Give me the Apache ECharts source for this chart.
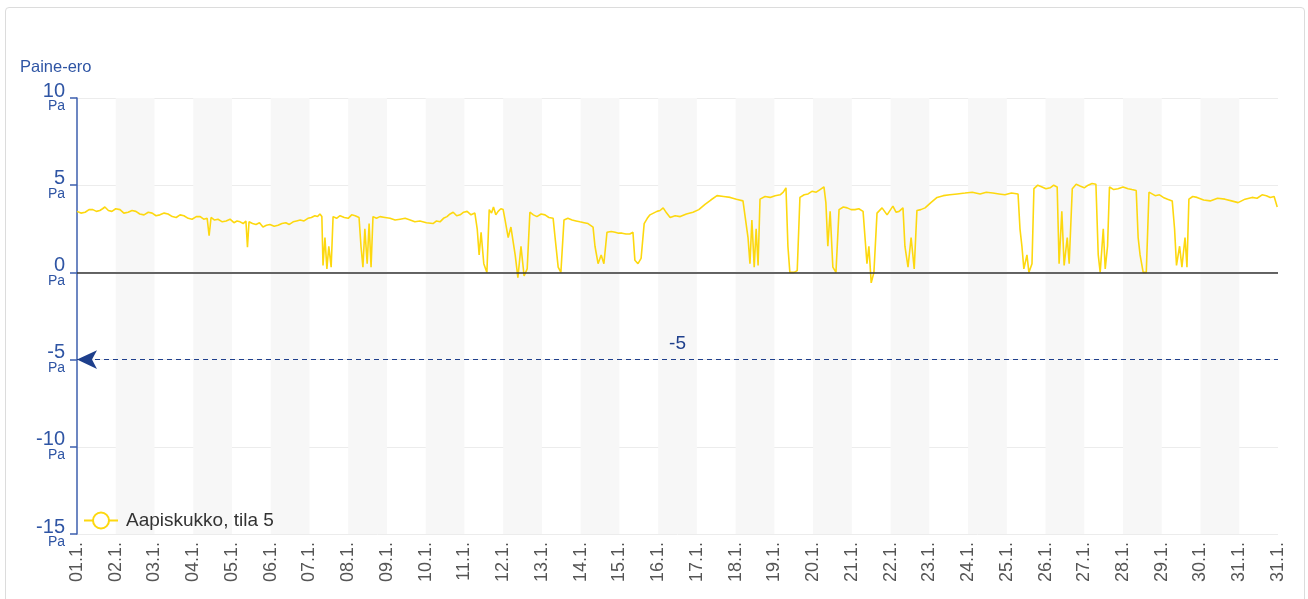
<!DOCTYPE html>
<html>
<head>
<meta charset="utf-8">
<script src="https://cdn.jsdelivr.net/npm/echarts@6/dist/echarts.min.js"></script>
<style>
  html, body { margin: 0; padding: 0; background: #fff; }
  .card {
    position: absolute; left: 5px; top: 7px; width: 1298px; height: 600px;
    border: 1px solid #dcdcdc; border-radius: 4px;
  }
  #chart { position: absolute; left: 0; top: 0; width: 1308px; height: 599px; }
</style>
</head>
<body>
<div class="card"></div>
<div id="chart"></div>
<script>
// x tick labels (one per day boundary, last one repeats like in the original)
const dayLabels = [
  '01.1.', '02.1.', '03.1.', '04.1.', '05.1.', '06.1.', '07.1.', '08.1.',
  '09.1.', '10.1.', '11.1.', '12.1.', '13.1.', '14.1.', '15.1.', '16.1.',
  '17.1.', '18.1.', '19.1.', '20.1.', '21.1.', '22.1.', '23.1.', '24.1.',
  '25.1.', '26.1.', '27.1.', '28.1.', '29.1.', '30.1.', '31.1.', '31.1.'
];

// time of each sample, in days from 01.1. 00:00
const days = [
  0.00, 0.10, 0.21, 0.31, 0.41, 0.50, 0.59, 0.66, 0.72, 0.81, 0.90, 1.00, 1.11, 1.21, 1.32, 1.42,
  1.52, 1.62, 1.73, 1.84, 1.94, 2.04, 2.14, 2.25, 2.35, 2.46, 2.56, 2.66, 2.76, 2.87, 2.97, 3.08,
  3.18, 3.27, 3.36, 3.41, 3.46, 3.55, 3.64, 3.75, 3.85, 3.95, 4.05, 4.13, 4.21, 4.29, 4.36, 4.40,
  4.44, 4.53, 4.62, 4.71, 4.80, 4.89, 4.98, 5.09, 5.19, 5.29, 5.39, 5.48, 5.58, 5.67, 5.76, 5.86,
  5.96, 6.05, 6.14, 6.21, 6.27, 6.32, 6.35, 6.40, 6.45, 6.50, 6.56, 6.61, 6.70, 6.79, 6.90, 7.00,
  7.09, 7.18, 7.28, 7.33, 7.38, 7.43, 7.49, 7.54, 7.59, 7.64, 7.73, 7.82, 7.95, 8.08, 8.21, 8.34,
  8.47, 8.60, 8.72, 8.85, 9.02, 9.19, 9.28, 9.37, 9.46, 9.55, 9.63, 9.71, 9.80, 9.89, 9.98, 10.07,
  10.17, 10.27, 10.33, 10.38, 10.43, 10.50, 10.58, 10.64, 10.70, 10.75, 10.81, 10.87, 10.94, 11.00, 11.05, 11.13,
  11.20, 11.31, 11.38, 11.46, 11.54, 11.62, 11.69, 11.78, 11.87, 11.98, 12.08, 12.18, 12.29, 12.34, 12.42, 12.49,
  12.57, 12.67, 12.78, 12.88, 12.98, 13.09, 13.19, 13.32, 13.37, 13.45, 13.53, 13.60, 13.68, 13.79, 13.89, 13.98,
  14.07, 14.17, 14.27, 14.35, 14.40, 14.48, 14.56, 14.64, 14.72, 14.79, 14.88, 14.97, 15.05, 15.13, 15.22, 15.31,
  15.44, 15.57, 15.73, 15.90, 16.05, 16.21, 16.36, 16.52, 16.69, 16.86, 17.02, 17.19, 17.32, 17.37, 17.42, 17.48,
  17.53, 17.58, 17.63, 17.76, 17.89, 18.02, 18.15, 18.23, 18.30, 18.35, 18.40, 18.51, 18.59, 18.66, 18.77, 18.87,
  18.97, 19.08, 19.18, 19.28, 19.33, 19.38, 19.44, 19.51, 19.59, 19.67, 19.78, 19.88, 19.98, 20.08, 20.18, 20.29,
  20.34, 20.39, 20.44, 20.50, 20.57, 20.65, 20.78, 20.91, 21.06, 21.14, 21.22, 21.32, 21.37, 21.45, 21.53, 21.61,
  21.68, 21.78, 21.89, 22.04, 22.20, 22.36, 22.53, 22.72, 22.92, 23.11, 23.31, 23.47, 23.64, 23.80, 23.95, 24.12,
  24.29, 24.34, 24.39, 24.44, 24.52, 24.57, 24.65, 24.70, 24.80, 24.91, 25.01, 25.12, 25.21, 25.30, 25.35, 25.42,
  25.48, 25.56, 25.61, 25.69, 25.79, 25.89, 26.00, 26.10, 26.20, 26.30, 26.36, 26.41, 26.49, 26.54, 26.60, 26.65,
  26.76, 26.87, 27.00, 27.13, 27.23, 27.34, 27.39, 27.44, 27.52, 27.60, 27.67, 27.75, 27.83, 27.94, 28.04, 28.15,
  28.27, 28.33, 28.38, 28.46, 28.52, 28.60, 28.65, 28.70, 28.80, 28.91, 29.08, 29.25, 29.44, 29.63, 29.80, 29.97,
  30.15, 30.33, 30.46, 30.59, 30.70, 30.80, 30.90, 30.98
];

// pressure difference, Pa
const values = [
  3.5, 3.4, 3.45, 3.6, 3.6, 3.5, 3.55, 3.65, 3.75, 3.55, 3.5, 3.65, 3.6, 3.4, 3.45, 3.55,
  3.5, 3.35, 3.3, 3.45, 3.4, 3.25, 3.3, 3.4, 3.35, 3.2, 3.15, 3.3, 3.25, 3.1, 3.05, 3.2,
  3.2, 3.05, 3.1, 2.1, 3.15, 3.0, 3.05, 2.9, 2.95, 3.05, 2.85, 2.95, 2.9, 2.8, 2.95, 1.45,
  2.9, 2.8, 2.75, 2.85, 2.6, 2.7, 2.75, 2.65, 2.7, 2.8, 2.85, 2.75, 2.9, 2.95, 3.0, 2.95,
  3.1, 3.15, 3.25, 3.2, 3.35, 3.2, 0.4, 2.0, 0.2, 1.5, 0.3, 3.2, 3.1, 3.25, 3.15, 3.1,
  3.3, 3.25, 3.15, 1.5, 0.3, 2.5, 0.5, 2.8, 0.3, 3.2, 3.1, 3.2, 3.15, 3.1, 3.0, 3.05,
  3.1, 3.0, 2.9, 2.95, 2.85, 2.8, 2.95, 2.9, 3.1, 3.2, 3.35, 3.45, 3.25, 3.3, 3.45, 3.5,
  3.3, 3.4, 2.5, 1.0, 2.3, 0.5, 0.0, 3.6, 3.4, 3.75, 3.3, 3.5, 3.65, 3.6, 3.0, 2.0,
  2.6, 1.0, -0.3, 1.5, -0.2, 0.2, 3.45, 3.3, 3.2, 3.35, 3.3, 3.15, 3.1, 2.0, 0.3, 0.0,
  3.0, 3.1, 3.0, 2.95, 2.9, 2.85, 2.8, 2.6, 1.5, 0.5, 1.0, 0.5, 2.3, 2.35, 2.3, 2.25,
  2.25, 2.2, 2.2, 2.3, 0.7, 0.5, 0.8, 2.8, 3.1, 3.3, 3.4, 3.5, 3.55, 3.7, 3.4, 3.15,
  3.25, 3.2, 3.35, 3.45, 3.6, 3.9, 4.15, 4.4, 4.35, 4.3, 4.2, 4.1, 2.0, 0.5, 3.0, 0.3,
  2.5, 0.4, 4.2, 4.35, 4.3, 4.4, 4.45, 4.6, 4.85, 1.5, 0.0, 0.0, 0.1, 4.3, 4.45, 4.5,
  4.65, 4.6, 4.75, 4.9, 4.0, 1.5, 3.5, 0.3, 0.0, 3.6, 3.75, 3.7, 3.6, 3.6, 3.65, 3.5,
  2.0, 0.5, 1.5, -0.6, 0.0, 3.4, 3.7, 3.3, 3.8, 3.45, 3.5, 3.7, 1.5, 0.3, 2.0, 0.2,
  3.55, 3.6, 3.7, 4.0, 4.3, 4.4, 4.45, 4.5, 4.55, 4.6, 4.5, 4.6, 4.55, 4.5, 4.45, 4.55,
  4.5, 2.5, 1.5, 0.2, 1.0, 0.0, 0.5, 4.8, 5.0, 4.9, 4.8, 4.85, 5.0, 4.9, 0.5, 3.5,
  0.4, 2.0, 0.5, 4.8, 5.05, 4.95, 4.85, 5.0, 5.1, 5.05, 1.0, 0.0, 2.5, 0.2, 1.5, 4.9,
  4.75, 4.8, 4.9, 4.8, 4.75, 4.7, 2.0, 1.0, 0.0, 0.0, 4.6, 4.5, 4.4, 4.45, 4.3, 4.2,
  4.1, 2.5, 0.4, 1.5, 0.3, 2.0, 0.3, 4.2, 4.35, 4.3, 4.15, 4.1, 4.25, 4.2, 4.1, 4.0,
  4.2, 4.3, 4.25, 4.45, 4.4, 4.3, 4.35, 3.75
];

const seriesName = 'Aapiskukko, tila 5';
const limitValue = -5;

const font = 'Liberation Sans';
const blue = '#2f55a4';
const navy = '#1e3f8c';

let chart = echarts.init(document.getElementById('chart'));
chart.setOption({
  animation: false,
  title: {
    text: 'Paine-ero',
    left: 15,
    top: 54,
    textStyle: { color: blue, fontSize: 16.5, fontWeight: 'normal', fontFamily: font }
  },
  legend: {
    left: 78,
    top: 506,
    itemWidth: 34,
    itemHeight: 20,
    textStyle: { color: '#333', fontSize: 19, fontFamily: font, padding: [0, 0, 0, 3] },
    data: [seriesName]
  },
  grid: { left: 77, right: 30, top: 98, bottom: 65 },
  xAxis: {
    type: 'value',
    min: 0,
    max: 31,
    interval: 1,
    axisLine: { show: false },
    axisTick: { show: false },
    splitLine: { show: false },
    splitArea: { show: true, areaStyle: { color: ['rgba(255,255,255,0)', '#f7f7f7'] } },
    axisLabel: {
      rotate: 90,
      color: '#555',
      fontSize: 18,
      fontFamily: font,
      margin: 8,
      formatter: v => dayLabels[Math.round(v)]
    }
  },
  yAxis: {
    type: 'value',
    min: -15,
    max: 10,
    interval: 5,
    axisLine: { show: true, lineStyle: { color: '#3d5fae', width: 1.5 } },
    axisTick: { show: true, length: 7, lineStyle: { color: '#3d5fae', width: 1.5 } },
    splitLine: { lineStyle: { color: '#ececec' } },
    axisLabel: {
      margin: 12,
      align: 'right',
      formatter: v => '{n|' + v + '}\n{u|Pa}',
      rich: {
        n: { fontSize: 20, color: blue, fontFamily: font, lineHeight: 17, align: 'right' },
        u: { fontSize: 14, color: blue, fontFamily: font, lineHeight: 14, align: 'right' }
      }
    }
  },
  series: [
    {
      name: seriesName,
      type: 'line',
      data: days.map((d, i) => [d, values[i]]),
      symbol: 'emptyCircle',
      symbolSize: 16,
      showSymbol: false,
      itemStyle: { color: '#fdd80f' },
      lineStyle: { color: '#fdd80f', width: 1.6 },
      markLine: {
        silent: true,
        animation: false,
        symbol: ['arrow', 'none'],
        symbolSize: [14, 20],
        lineStyle: { type: [5, 4], color: navy, width: 1.2 },
        label: {
          show: true,
          position: 'middle',
          formatter: String(limitValue),
          color: navy,
          fontSize: 19,
          fontFamily: font,
          distance: 6
        },
        data: [{ yAxis: limitValue }]
      }
    },
    {
      // zero reference line
      name: 'zero',
      type: 'line',
      data: [],
      markLine: {
        silent: true,
        animation: false,
        symbol: 'none',
        lineStyle: { type: 'solid', color: '#333', width: 1.5 },
        label: { show: false },
        data: [{ yAxis: 0 }]
      }
    }
  ]
});
</script>
</body>
</html>
